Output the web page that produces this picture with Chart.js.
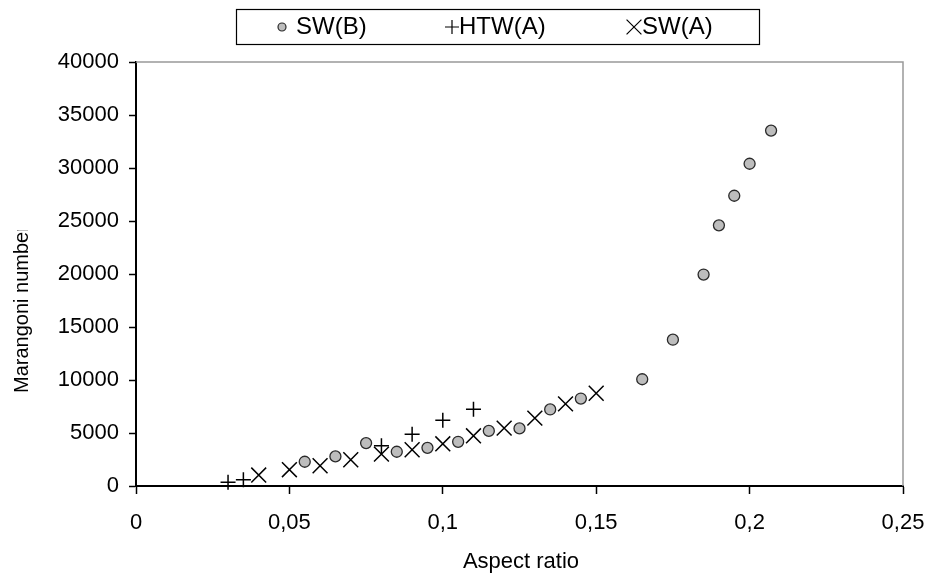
<!DOCTYPE html>
<html>
<head>
<meta charset="utf-8">
<script src="https://cdn.jsdelivr.net/npm/chart.js@4.4.1/dist/chart.umd.min.js"></script>
<style>
  html, body { margin: 0; padding: 0; background: #fff; }
  #wrap { width: 927px; height: 574px; position: relative; }
</style>
</head>
<body>
<div id="wrap"><canvas id="myChart" width="927" height="574"></canvas></div>
<script>
// values
const swB_x = [0.055, 0.065, 0.075, 0.085, 0.095, 0.105, 0.115, 0.125, 0.135, 0.145, 0.165, 0.175, 0.185, 0.19, 0.195, 0.2, 0.207];
const swB_y = [2290, 2790, 4050, 3230, 3600, 4170, 5200, 5430, 7220, 8250, 10070, 13800, 19950, 24590, 27380, 30400, 33530];

const htwA_x = [0.03, 0.035, 0.08, 0.09, 0.1, 0.11];
const htwA_y = [350, 600, 3800, 4890, 6210, 7245];

const swA_x = [0.04, 0.05, 0.06, 0.07, 0.08, 0.09, 0.1, 0.11, 0.12, 0.13, 0.14, 0.15];
const swA_y = [1035, 1535, 1910, 2475, 3010, 3420, 3980, 4735, 5460, 6400, 7750, 8750];

const seriesLabels = ["SW(B)", "HTW(A)", "SW(A)"];
const xTicks = [0, 0.05, 0.1, 0.15, 0.2, 0.25];
const yTicks = [0, 5000, 10000, 15000, 20000, 25000, 30000, 35000, 40000];
const xTitle = "Aspect ratio";
const yTitle = "Marangoni number";

const FONT = "'Liberation Sans', Arial, sans-serif";

const toPoints = (xs, ys) => xs.map((x, i) => ({ x: x, y: ys[i] }));

// frame (gray top/right), titles and boxed legend
const decorations = {
  id: "decorations",
  afterDraw(chart) {
    const { ctx, chartArea: a } = chart;
    ctx.save();
    ctx.strokeStyle = "#999";
    ctx.lineWidth = 1.5;
    ctx.beginPath();
    ctx.moveTo(a.left, a.top);
    ctx.lineTo(a.right, a.top);
    ctx.lineTo(a.right, a.bottom);
    ctx.stroke();

    ctx.fillStyle = "#000";
    ctx.font = "22px " + FONT;
    ctx.textBaseline = "middle";
    ctx.textAlign = "center";
    ctx.fillText(xTitle, 521, 562);

    // y title, cut at the top like in the original
    ctx.save();
    ctx.beginPath();
    ctx.rect(0, 230, 60, 300);
    ctx.clip();
    ctx.translate(22, 393);
    ctx.rotate(-Math.PI / 2);
    ctx.textAlign = "left";
    ctx.font = "20px " + FONT;
    ctx.fillText(yTitle, 0, 0);
    ctx.restore();

    // legend box
    ctx.strokeStyle = "#000";
    ctx.lineWidth = 1.2;
    ctx.strokeRect(236.5, 9.5, 523, 35);
    const items = [
      { mx: 282, tx: 296, style: "circle", r: 4 },
      { mx: 452, tx: 459, style: "cross", r: 7 },
      { mx: 634, tx: 642, style: "crossRot", r: 10.5 },
    ];
    items.forEach((it, i) => {
      const ds = chart.data.datasets[i];
      ctx.fillStyle = ds.backgroundColor;
      ctx.strokeStyle = ds.borderColor;
      ctx.lineWidth = 1.2;
      Chart.helpers.drawPoint(ctx, { pointStyle: it.style, radius: it.r, rotation: 0, borderWidth: 1.2 }, it.mx, 27);
      ctx.fillStyle = "#000";
      ctx.textAlign = "left";
      ctx.font = "24px " + FONT;
      ctx.fillText(seriesLabels[i], it.tx, 27);
    });
    ctx.restore();
  },
};

const ctx = document.getElementById("myChart").getContext("2d");
window.myChart = new Chart(ctx, {
  type: "scatter",
  data: {
    datasets: [
      {
        label: seriesLabels[0],
        data: toPoints(swB_x, swB_y),
        pointStyle: "circle",
        pointRadius: 5.5,
        backgroundColor: "#bdbdbd",
        borderColor: "#2a2a2a",
        borderWidth: 1.3,
        clip: false,
      },
      {
        label: seriesLabels[1],
        data: toPoints(htwA_x, htwA_y),
        pointStyle: "cross",
        pointRadius: 7.5,
        backgroundColor: "#000",
        borderColor: "#000",
        borderWidth: 1.5,
        clip: false,
      },
      {
        label: seriesLabels[2],
        data: toPoints(swA_x, swA_y),
        pointStyle: "crossRot",
        pointRadius: 10.5,
        backgroundColor: "#000",
        borderColor: "#000",
        borderWidth: 1.5,
        clip: false,
      },
    ],
  },
  options: {
    responsive: false,
    animation: false,
    layout: { padding: { top: 62, right: 24, left: 0, bottom: 0 } },
    plugins: {
      legend: { display: false },
      tooltip: { enabled: false },
    },
    scales: {
      x: {
        type: "linear",
        min: 0,
        max: 0.25,
        afterBuildTicks: (scale) => {
          scale.ticks = xTicks.map((v) => ({ value: v }));
        },
        afterFit: (scale) => {
          scale.height = 88;
          scale.paddingLeft = 0;
          scale.paddingRight = 0;
        },
        grid: {
          drawOnChartArea: false,
          drawTicks: true,
          tickLength: 8,
          tickColor: "#000",
          tickWidth: 1.5,
        },
        border: { display: true, color: "#000", width: 2 },
        ticks: {
          color: "#000",
          font: { family: FONT, size: 22 },
          padding: 16,
          maxRotation: 0,
          callback: (v) => String(+Number(v).toFixed(2)).replace(".", ","),
        },
      },
      y: {
        type: "linear",
        min: 0,
        max: 40000,
        afterBuildTicks: (scale) => {
          scale.ticks = yTicks.map((v) => ({ value: v }));
        },
        afterFit: (scale) => {
          scale.width = 136;
          scale.paddingTop = 0;
          scale.paddingBottom = 0;
        },
        grid: {
          drawOnChartArea: false,
          drawTicks: true,
          tickLength: 7,
          tickColor: "#000",
          tickWidth: 1.5,
        },
        border: { display: true, color: "#000", width: 2 },
        ticks: {
          color: "#000",
          font: { family: FONT, size: 22 },
          padding: 10,
          callback: (v) => String(v),
        },
      },
    },
  },
  plugins: [decorations],
});
</script>
</body>
</html>
